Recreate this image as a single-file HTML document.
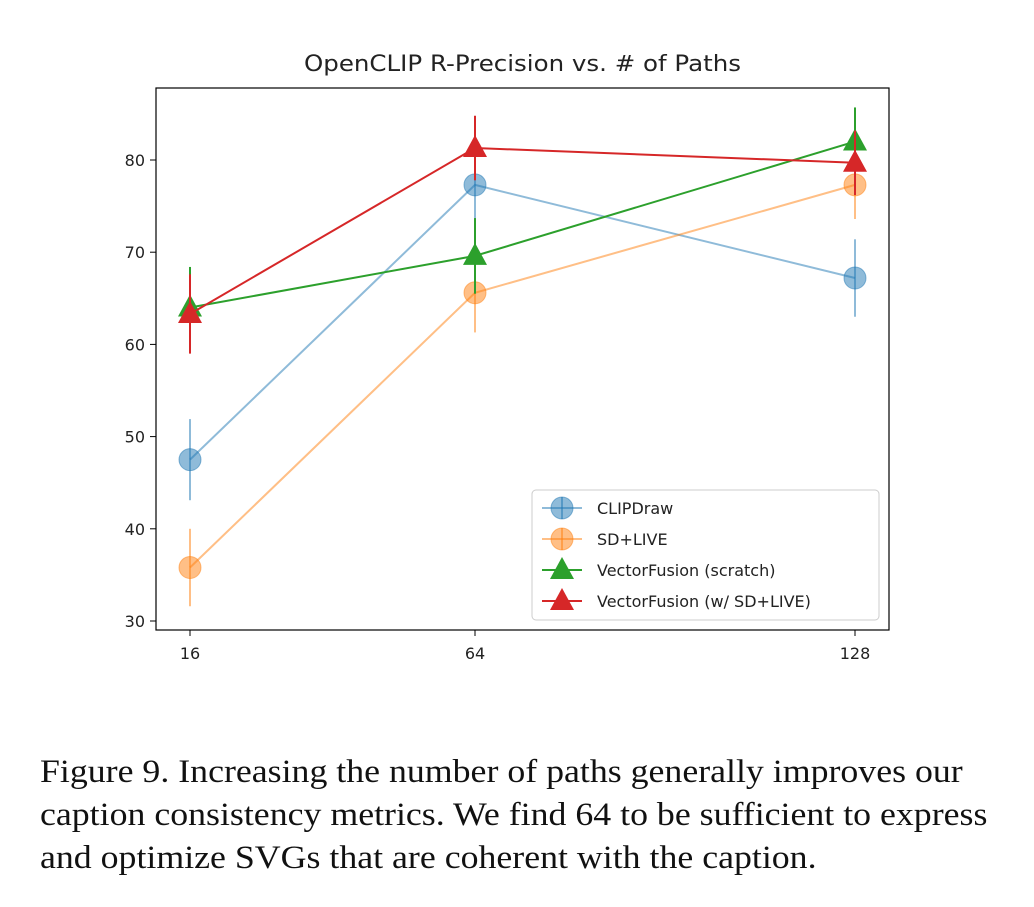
<!DOCTYPE html>
<html><head><meta charset="utf-8"><style>
body{margin:0;background:#fff;width:1034px;height:907px;overflow:hidden}
.cap{position:absolute;left:40px;top:751px;font:33px "Liberation Serif",serif;line-height:43px;color:#111;white-space:nowrap;transform-origin:0 0;transform:scaleX(1.085)}
</style></head><body>
<svg id="chart" width="1034" height="740" style="position:absolute;left:0;top:0" font-family="DejaVu Sans, Liberation Sans, sans-serif"></svg>
<div class="cap">Figure 9. Increasing the number of paths generally improves our<br>caption consistency metrics. We find 64 to be sufficient to express<br>and optimize SVGs that are coherent with the caption.</div>
<script>
const xCats=[16,64,128];
const yTicks=[30,40,50,60,70,80];
const seriesNames=["CLIPDraw","SD+LIVE","VectorFusion (scratch)","VectorFusion (w/ SD+LIVE)"];
const clipdraw=[47.5,77.3,67.2];
const clipdrawErr=[4.4,4.0,4.2];
const sdlive=[35.8,65.6,77.3];
const sdliveErr=[4.2,4.3,3.7];
const scratch=[64.0,69.6,82.0];
const scratchErr=[4.4,4.1,3.7];
const wsdlive=[63.3,81.3,79.7];
const wsdliveErr=[4.3,3.5,3.5];
const colors=["#1f77b4","#ff7f0e","#2ca02c","#d62728"];
const L=156,R=889,T=88,B=630;
const xs=v=>190+(v-16)*(855-190)/112;
const ys=v=>160+(80-v)*(621-160)/50;
const svg=document.getElementById('chart');
const NS="http://www.w3.org/2000/svg";
function mk(t,a,p){const e=document.createElementNS(NS,t);for(const k in a)e.setAttribute(k,a[k]);(p||svg).appendChild(e);return e;}
let e;
e=mk('text',{x:(L+R)/2,y:71,'text-anchor':'middle','font-size':'22',fill:'#222',textLength:437,lengthAdjust:'spacingAndGlyphs'});e.textContent="OpenCLIP R-Precision vs. # of Paths";


yTicks.forEach(v=>{
 e=mk('line',{x1:L-6,x2:L,y1:ys(v),y2:ys(v),stroke:'#000'});
 
 
 e=mk('text',{x:L-11,y:ys(v)+6,'text-anchor':'end','font-size':'16',fill:'#222'});e.textContent=v;
 
 
});
xCats.forEach(v=>{
 e=mk('line',{x1:xs(v),x2:xs(v),y1:B,y2:B+6,stroke:'#000'});
 
 
 e=mk('text',{x:xs(v),y:B+29,'text-anchor':'middle','font-size':'16',fill:'#222'});e.textContent=v;
 
 
});
const all=[[clipdraw,clipdrawErr,'c',0.5],[sdlive,sdliveErr,'c',0.5],[scratch,scratchErr,'t',1],[wsdlive,wsdliveErr,'t',1]];
function marker(kind,x,y,c,op,g){
 if(kind==='c')return mk('circle',{cx:x,cy:y,r:11,fill:c,'fill-opacity':op,stroke:c,'stroke-opacity':op},g);
 return mk('polygon',{points:`${x},${y-13} ${x-12},${y+9} ${x+12},${y+9}`,fill:c},g);
}
all.forEach((s,i)=>{
 const g=mk('g',{opacity:1});
 
 
 const c=colors[i],op=s[3];
 e=mk('polyline',{points:s[0].map((v,j)=>xs(xCats[j])+','+ys(v)).join(' '),fill:'none',stroke:c,'stroke-width':2,'stroke-opacity':op},g);
 
 
 s[0].forEach((v,j)=>{
  e=mk('line',{x1:xs(xCats[j]),x2:xs(xCats[j]),y1:ys(v-s[1][j]),y2:ys(v+s[1][j]),stroke:c,'stroke-width':2,'stroke-opacity':op},g);
  
  
  e=marker(s[2],xs(xCats[j]),ys(v),c,op,g);
  
  
 });
});
e=mk('rect',{x:L,y:T,width:R-L,height:B-T,fill:'none',stroke:'#000','stroke-width':1.2});


const lg=mk('g',{});


mk('rect',{x:532,y:490,width:347,height:130,rx:4,fill:'#fff','fill-opacity':0.85,stroke:'#ccc'},lg);
seriesNames.forEach((n,i)=>{
 const y=508+i*31,c=colors[i],op=all[i][3];
 const g=mk('g',{},lg);
 
 
 mk('line',{x1:542,x2:582,y1:y,y2:y,stroke:c,'stroke-width':2,'stroke-opacity':op},g);
 if(all[i][2]==='c')mk('line',{x1:562,x2:562,y1:y-11,y2:y+11,stroke:c,'stroke-width':2,'stroke-opacity':op},g);
 marker(all[i][2],562,y,c,op,g);
 const t=mk('text',{x:597,y:y+6,'font-size':'16',fill:'#222'},g);t.textContent=n;
});
</script>
</body></html>
